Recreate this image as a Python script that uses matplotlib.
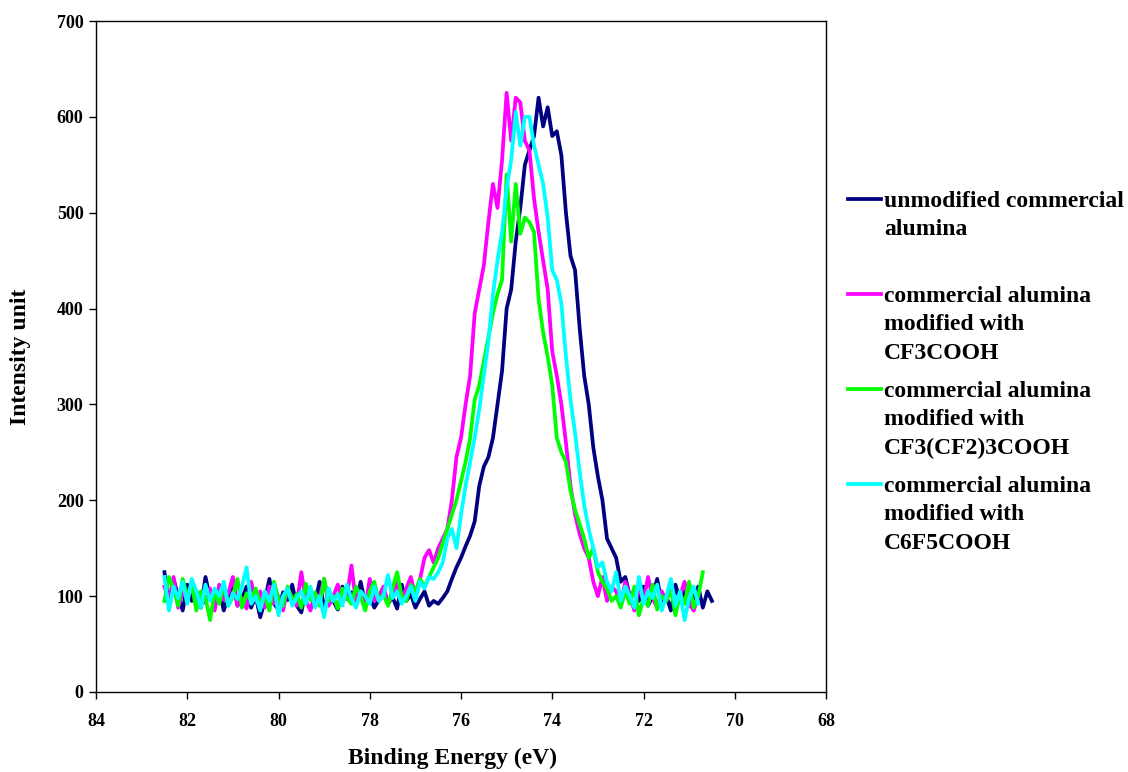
import numpy as np
import matplotlib
matplotlib.use("Agg")
import matplotlib.pyplot as plt
from matplotlib.lines import Line2D

plt.rcParams['font.family'] = ['Liberation Serif', 'DejaVu Serif']
plt.rcParams['font.weight'] = 'bold'

# binding energy grid: 0.1 eV steps starting at 82.5 eV (one row = 1 eV)
e_start = 82.5
e_step = 0.1

unmodified = [
    125, 90, 118, 100, 85, 112, 95, 105, 88, 120,
    98, 92, 108, 85, 100, 115, 90, 97, 110, 88,
    100, 78, 95, 118, 92, 86, 104, 96, 112, 90,
    83, 107, 99, 93, 115, 88, 101, 95, 86, 110,
    97, 104, 90, 115, 93, 100, 88, 96, 108, 92,
    99, 87, 112, 95, 102, 88, 97, 105, 90, 95,
    92, 98, 105, 118, 130, 140, 152, 163, 178, 215,
    235, 245, 265, 300, 335, 400, 420, 470, 505, 550,
    565, 580, 620, 590, 610, 580, 585, 560, 500, 455,
    440, 380, 330, 300, 255, 225, 200, 160, 150, 140,
    115, 120, 100, 105, 95, 110, 90, 100, 118, 92,
    100, 85, 112, 95, 105, 90, 98, 110, 88, 105,
    95,
]

cf3cooh = [
    110, 95, 120, 88, 105, 98, 115, 90, 100, 93,
    108, 85, 112, 96, 103, 120, 90, 98, 87, 115,
    95, 105, 88, 110, 92, 100, 85, 108, 97, 90,
    125, 95, 85, 103, 98, 118, 90, 100, 112, 95,
    100, 132, 92, 105, 88, 118, 95, 100, 110, 92,
    100, 115, 95, 108, 120, 100, 117, 140, 148, 135,
    150, 160, 170, 200, 245, 265, 300, 330, 395, 420,
    445, 490, 530, 505, 555, 625, 575, 620, 615, 575,
    565, 515, 480, 450, 420, 355, 330, 300, 260, 215,
    185, 165, 150, 140, 115, 100, 120, 95, 110, 105,
    90, 115, 100, 85, 110, 95, 120, 98, 88, 105,
    95, 110, 88, 100, 115, 92, 85, 100,
]

cf3cf23cooh = [
    95, 120, 108, 90, 118, 100, 112, 85, 105, 98,
    75, 105, 92, 112, 90, 100, 118, 88, 103, 95,
    108, 92, 100, 85, 115, 97, 90, 110, 95, 102,
    88, 113, 96, 104, 90, 118, 95, 100, 87, 108,
    98, 92, 110, 100, 85, 105, 115, 95, 102, 90,
    108, 125, 100, 95, 112, 105, 118, 110, 120, 130,
    140, 155, 170, 185, 200, 220, 240, 265, 305, 320,
    345, 370, 395, 415, 430, 540, 470, 530, 478, 495,
    490, 480, 410, 375, 350, 320, 265, 250, 240, 210,
    190, 175, 160, 140, 150, 125, 115, 108, 95, 100,
    88, 105, 92, 110, 80, 98, 90, 112, 86, 100,
    95, 108, 80, 102, 92, 115, 88, 100, 125,
]

c6f5cooh = [
    120, 85, 110, 98, 115, 92, 118, 105, 88, 112,
    95, 108, 100, 115, 90, 103, 97, 110, 130, 92,
    100, 85, 105, 95, 112, 80, 100, 108, 90, 98,
    105, 92, 110, 88, 100, 78, 108, 95, 102, 90,
    112, 97, 88, 105, 100, 92, 110, 95, 100, 122,
    98, 105, 92, 100, 110, 95, 115, 108, 120, 118,
    125, 135, 160, 170, 150, 185, 215, 240, 265, 295,
    330, 365, 415, 450, 480, 525, 555, 605, 570, 600,
    600, 570, 550, 530, 495, 440, 430, 405, 350, 305,
    270, 230, 195, 170, 150, 130, 135, 115, 105, 125,
    95, 110, 100, 88, 120, 92, 105, 98, 112, 85,
    100, 118, 90, 105, 75, 98, 110, 92,
]

series = [unmodified, cf3cooh, cf3cf23cooh, c6f5cooh]
labels = [
    "unmodified commercial\nalumina",
    "commercial alumina\nmodified with\nCF3COOH",
    "commercial alumina\nmodified with\nCF3(CF2)3COOH",
    "commercial alumina\nmodified with\nC6F5COOH",
]
colors = ['#000080', '#FF00FF', '#00FF00', '#00FFFF']

fig = plt.figure(figsize=(11.28, 7.72), dpi=100)
ax = fig.add_axes([96 / 1128, 1 - 692 / 772, 730 / 1128, 671 / 772])

for y, c in zip(series, colors):
    x = e_start - e_step * np.arange(len(y))
    ax.plot(x, y, color=c, lw=2.7, solid_joinstyle='round')

ax.set_xlim(84, 68)
ax.set_ylim(0, 700)
ax.set_xticks(np.arange(84, 67, -2))
ax.set_yticks(np.arange(0, 701, 100))
ax.tick_params(direction='out', length=5, width=1, labelsize=13)
ax.tick_params(axis='x', pad=10)
ax.tick_params(axis='y', pad=4)
for s in ax.spines.values():
    s.set_linewidth(1)
ax.set_xlabel("Binding Energy (eV)", fontsize=17, fontweight='bold')
ax.set_ylabel("Intensity unit", fontsize=17, fontweight='bold')
ax.xaxis.set_label_coords(0.489, -0.083)
ax.yaxis.set_label_coords(-0.089, 0.5)

# legend drawn at the right of the plot area
ys = [199, 294, 389, 484]
for lab, c, yp in zip(labels, colors, ys):
    yf = 1 - yp / 772
    fig.add_artist(Line2D([848 / 1128, 881 / 1128], [yf, yf], color=c, lw=2.7,
                          transform=fig.transFigure))
    fig.text(884 / 1128, 1 - (yp - 8) / 772, lab, fontsize=17, fontweight='bold',
             va='top', ha='left', linespacing=1.46)

fig.savefig("out.png", dpi=100)
